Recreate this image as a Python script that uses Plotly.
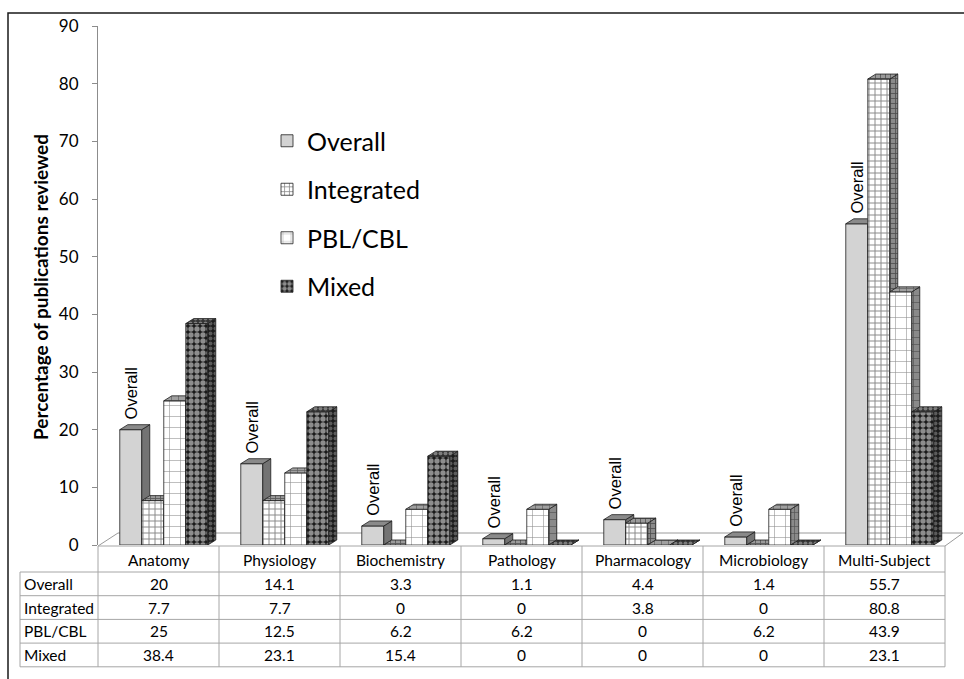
import plotly.graph_objects as go

# ---- data -----------------------------------------------------------------
categories = ["Anatomy", "Physiology", "Biochemistry", "Pathology",
              "Pharmacology", "Microbiology", "Multi-Subject"]
series_names = ["Overall", "Integrated", "PBL/CBL", "Mixed"]
overall = [20, 14.1, 3.3, 1.1, 4.4, 1.4, 55.7]
integrated = [7.7, 7.7, 0, 0, 3.8, 0, 80.8]
pbl_cbl = [25, 12.5, 6.2, 6.2, 0, 6.2, 43.9]
mixed = [38.4, 23.1, 15.4, 0, 0, 0, 23.1]
y_ticks = [0, 10, 20, 30, 40, 50, 60, 70, 80, 90]

series_values = [overall, integrated, pbl_cbl, mixed]

# ---- geometry (pixels of the 964x679 canvas) --------------------------------
W, H = 964, 679
L, R, T, B = 98, 945, 26, 545          # plot area edges
Y_MAX = 90
X_LO, X_HI = -0.5, len(categories) - 0.5
PX_X = (R - L) / (X_HI - X_LO)
PX_Y = (B - T) / Y_MAX

BAR_W = 22 / PX_X                      # width of one front face
GROUP_OFF = -0.32                      # left edge of a group, from category centre
DX = 8 / PX_X                          # 3-D depth, horizontal
DY = 5 / PX_Y                          # 3-D depth, vertical

CALIBRI_LIKE = "Lato"
ARIAL_LIKE = "Liberation Sans"


def px2x(px):
    return (px - L) / (R - L)


def py2y(py):
    return (B - py) / (B - T)


# face styles for each series: front bar, side face, top face
styles = [
    dict(front=dict(color="#d3d3d3"),
         side=dict(fillcolor="#737373"),
         top=dict(fillcolor="#8a8a8a")),
    dict(front=dict(color="white",
                    pattern=dict(shape="+", fgcolor="#111111", size=6, solidity=0.3)),
         side=dict(fillcolor="#8a8a8a",
                   fillpattern=dict(shape="+", fgcolor="#111111", bgcolor="#8a8a8a",
                                    size=5, solidity=0.3)),
         top=dict(fillcolor="#9a9a9a",
                  fillpattern=dict(shape="+", fgcolor="#111111", bgcolor="#9a9a9a",
                                   size=5, solidity=0.3))),
    dict(front=dict(color="white",
                    pattern=dict(shape="+", fgcolor="#1a1a1a", size=11, solidity=0.1)),
         side=dict(fillcolor="#8a8a8a",
                   fillpattern=dict(shape="+", fgcolor="#1a1a1a", bgcolor="#8a8a8a",
                                    size=7, solidity=0.18)),
         top=dict(fillcolor="#a0a0a0",
                  fillpattern=dict(shape="+", fgcolor="#1a1a1a", bgcolor="#a0a0a0",
                                   size=7, solidity=0.18))),
    dict(front=dict(color="#1a1a1a",
                    pattern=dict(shape=".", fgcolor="white", size=6, solidity=0.62)),
         side=dict(fillcolor="#1c1c1c",
                   fillpattern=dict(shape=".", fgcolor="#9a9a9a", bgcolor="#1c1c1c",
                                    size=5, solidity=0.5)),
         top=dict(fillcolor="#404040",
                  fillpattern=dict(shape=".", fgcolor="#c8c8c8", bgcolor="#333333",
                                   size=5, solidity=0.5))),
]

fig = go.Figure()
cat_idx = list(range(len(categories)))

for k, (name, vals) in enumerate(zip(series_names, series_values)):
    xa = "x" if k == 0 else f"x{k + 1}"
    ya = "y" if k == 0 else f"y{k + 1}"
    off = GROUP_OFF + k * BAR_W
    st = styles[k]

    fig.add_trace(go.Bar(
        x=cat_idx, y=vals, name=name, width=BAR_W, offset=off,
        marker=dict(line=dict(color="#1e1e1e", width=0.8), **st["front"]),
        legendgroup=name, xaxis=xa, yaxis=ya, hoverinfo="skip",
    ))

    side_x, side_y, top_x, top_y = [], [], [], []
    for c, v in zip(cat_idx, vals):
        xl = c + off
        xr = xl + BAR_W
        side_x += [xr, xr + DX, xr + DX, xr, xr, None]
        side_y += [0, DY, v + DY, v, 0, None]
        top_x += [xl, xl + DX, xr + DX, xr, xl, None]
        top_y += [v, v + DY, v + DY, v, v, None]

    for fx, fy, fs in ((side_x, side_y, st["side"]), (top_x, top_y, st["top"])):
        fig.add_trace(go.Scatter(
            x=fx, y=fy, mode="lines", fill="toself",
            line=dict(color="#1e1e1e", width=0.8),
            showlegend=False, legendgroup=name, hoverinfo="skip",
            xaxis=xa, yaxis=ya, cliponaxis=False, **fs,
        ))

# "Overall" marker above each Overall bar
annotations = []
for c, v in zip(cat_idx, overall):
    annotations.append(dict(
        x=c + GROUP_OFF + BAR_W / 2, y=v, xref="x", yref="y",
        text="Overall", textangle=-90, showarrow=False,
        xanchor="center", yanchor="bottom", yshift=8,
        font=dict(family=ARIAL_LIKE, size=16.5, color="black"),
    ))

# ---- data table under the chart ---------------------------------------------
GRID = "#a6a6a6"
tbl_top = 546
row_lines = [572, 595.7, 619.4, 643.1, 666.8]
tbl_left = 20

shapes = []


def hline(x0, x1, py, color=GRID, width=1):
    shapes.append(dict(type="line", xref="paper", yref="paper",
                       x0=px2x(x0), x1=px2x(x1), y0=py2y(py), y1=py2y(py),
                       line=dict(color=color, width=width)))


def vline(px, y0, y1, color=GRID, width=1):
    shapes.append(dict(type="line", xref="paper", yref="paper",
                       x0=px2x(px), x1=px2x(px), y0=py2y(y0), y1=py2y(y1),
                       line=dict(color=color, width=width)))


hline(L, R, tbl_top)
for py in row_lines:
    hline(tbl_left, R, py)
vline(tbl_left, row_lines[0], row_lines[-1])
for i in range(len(categories) + 1):
    vline(L + i * PX_X, tbl_top, row_lines[-1])

# floor of the 3-D plot
FLOOR = "#9a9a9a"
shapes.append(dict(type="path", xref="paper", yref="paper", layer="below",
                   path=(f"M{px2x(L)},{py2y(tbl_top)} L{px2x(L + 20)},{py2y(533)} "
                         f"L{px2x(R + 18)},{py2y(533)} L{px2x(R)},{py2y(tbl_top)}"),
                   line=dict(color=FLOOR, width=1)))

# outer frame
shapes.append(dict(type="rect", xref="paper", yref="paper",
                   x0=px2x(8), x1=px2x(968), y0=py2y(13), y1=py2y(690),
                   line=dict(color="#1a1a1a", width=1.5)))

TFONT = dict(family=CALIBRI_LIKE, size=15.5, color="black")
for c, cat in enumerate(categories):
    annotations.append(dict(x=c, y=py2y((tbl_top + row_lines[0]) / 2 + 1), xref="x", yref="paper",
                            text=cat, showarrow=False, xanchor="center", yanchor="middle",
                            font=TFONT))
for r, (name, vals) in enumerate(zip(series_names, series_values)):
    ymid = py2y((row_lines[r] + row_lines[r + 1]) / 2)
    annotations.append(dict(x=px2x(tbl_left + 2), y=ymid, xref="paper", yref="paper",
                            text=name, showarrow=False, xanchor="left", yanchor="middle",
                            font=TFONT))
    for c, v in enumerate(vals):
        annotations.append(dict(x=c, y=ymid, xref="x", yref="paper",
                                text=f"{v:g}", showarrow=False,
                                xanchor="center", yanchor="middle", font=TFONT))

# y-axis title
annotations.append(dict(x=px2x(40), y=py2y(287), xref="paper", yref="paper",
                        text="<b>Percentage of publications reviewed</b>", textangle=-90,
                        showarrow=False, xanchor="center", yanchor="middle",
                        font=dict(family=CALIBRI_LIKE, size=19, color="black")))

layout_axes = {}
for k in range(1, len(series_names)):
    layout_axes[f"xaxis{k + 1}"] = dict(overlaying="x", range=[X_LO, X_HI], visible=False)
    layout_axes[f"yaxis{k + 1}"] = dict(overlaying="y", range=[0, Y_MAX], visible=False)

fig.update_layout(
    width=W, height=H,
    margin=dict(l=L, r=W - R, t=T, b=H - B),
    paper_bgcolor="white", plot_bgcolor="rgba(0,0,0,0)",
    barmode="overlay", showlegend=True,
    xaxis=dict(range=[X_LO, X_HI], visible=False),
    yaxis=dict(range=[0, Y_MAX], tickvals=y_ticks, showgrid=False, zeroline=False,
               showline=True, linecolor="#8c8c8c", linewidth=1,
               ticks="outside", ticklen=5, tickcolor="#8c8c8c", ticklabelstandoff=10,
               tickfont=dict(family=CALIBRI_LIKE, size=17, color="black")),
    legend=dict(x=px2x(267), y=py2y(118), xanchor="left", yanchor="top",
                bgcolor="rgba(0,0,0,0)", tracegroupgap=13,
                font=dict(family=CALIBRI_LIKE, size=25, color="black")),
    shapes=shapes, annotations=annotations,
    **layout_axes,
)

fig.write_html("out.html")
